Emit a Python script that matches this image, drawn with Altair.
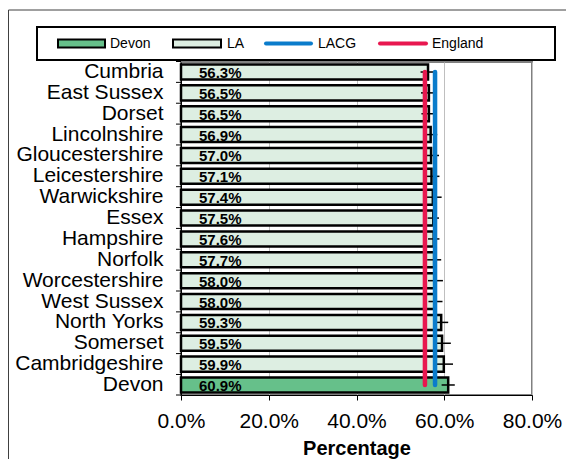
import altair as alt
import pandas as pd

counties = ["Cumbria", "East Sussex", "Dorset", "Lincolnshire", "Gloucestershire",
            "Leicestershire", "Warwickshire", "Essex", "Hampshire", "Norfolk",
            "Worcestershire", "West Sussex", "North Yorks", "Somerset",
            "Cambridgeshire", "Devon"]
values = [56.3, 56.5, 56.5, 56.9, 57.0, 57.1, 57.4, 57.5, 57.6, 57.7,
          58.0, 58.0, 59.3, 59.5, 59.9, 60.9]
err_half = [1.7, 1.8, 1.7, 1.5, 1.8, 1.8, 2.0, 1.3, 1.3, 1.6,
            1.7, 1.6, 1.6, 2.0, 2.1, 1.5]
lacg_value = 57.9
england_value = 55.6
x_ticks = [0, 20, 40, 60, 80]

FONT = "Liberation Sans"
GREEN = "#66C08A"
LIGHT = "#DDEEE2"
BLUE = "#0A7CCB"
RED = "#E8174F"

df = pd.DataFrame({
    "county": counties,
    "value": values,
    "lo": [v - e for v, e in zip(values, err_half)],
    "hi": [v + e for v, e in zip(values, err_half)],
    "kind": ["Devon" if c == "Devon" else "LA" for c in counties],
    "label": [f"{v:.1f}%" for v in values],
    "lacg": [lacg_value] * len(counties),
    "england": [england_value] * len(counties),
})

one = pd.DataFrame({"k": [0]})

yscale = alt.Scale(domain=counties, paddingInner=0.28, paddingOuter=0.12)
xscale = alt.Scale(domain=[0, 80], nice=False)

Y = alt.Y("county:N", sort=counties, scale=yscale,
          axis=alt.Axis(title=None, ticks=False, labelPadding=18, labelFontSize=21,
                        labelFont=FONT, labelColor="black", domainColor="black",
                        domainWidth=1, grid=False, labelLimit=300))

X = alt.X("value:Q", scale=xscale,
          axis=alt.Axis(values=x_ticks, labelExpr="format(datum.value, '.1f') + '%'",
                        title="Percentage", titleFont=FONT, titleFontSize=20,
                        titleFontWeight="bold", titleColor="black", titlePadding=7,
                        labelFont=FONT, labelFontSize=21, labelColor="black",
                        labelPadding=10, labelFlush=False, labelOverlap=False,
                        tickSize=5, tickColor="black",
                        domainColor="black", grid=True, gridColor="#BFBFBF",
                        gridWidth=1))

# outer chart border and legend box
border = alt.Chart(one).mark_rect(fillOpacity=0, stroke="#404040", strokeWidth=1).encode(
    x=alt.value(-172.5), x2=alt.value(620), y=alt.value(-52), y2=alt.value(500))
legend_box = alt.Chart(one).mark_rect(fill="white", stroke="black", strokeWidth=2).encode(
    x=alt.value(-144), x2=alt.value(374), y=alt.value(-35), y2=alt.value(-2))
sw_devon = alt.Chart(one).mark_rect(fill=GREEN, stroke="black", strokeWidth=2).encode(
    x=alt.value(-123), x2=alt.value(-76), y=alt.value(-22.5), y2=alt.value(-14.5))
sw_la = alt.Chart(one).mark_rect(fill=LIGHT, stroke="black", strokeWidth=2).encode(
    x=alt.value(-8), x2=alt.value(40), y=alt.value(-22.5), y2=alt.value(-14.5))
sw_lacg = alt.Chart(one).mark_rule(stroke=BLUE, strokeWidth=4, strokeCap="round").encode(
    x=alt.value(85), x2=alt.value(130), y=alt.value(-18.5))
sw_eng = alt.Chart(one).mark_rule(stroke=RED, strokeWidth=4, strokeCap="round").encode(
    x=alt.value(199), x2=alt.value(245), y=alt.value(-18.5))

def legend_text(txt, xpos):
    return alt.Chart(one).mark_text(align="left", baseline="middle", font=FONT,
                                    fontSize=14, color="black").encode(
        x=alt.value(xpos), y=alt.value(-18), text=alt.datum(txt))

base = alt.Chart(df)

bars = base.mark_bar(stroke="black", strokeWidth=2.5).encode(
    x=X, y=Y,
    color=alt.Color("kind:N", scale=alt.Scale(domain=["Devon", "LA"], range=[GREEN, LIGHT]),
                    legend=None))

errs = base.mark_rule(color="black", strokeWidth=1.5).encode(
    x="lo:Q", x2="hi:Q", y=alt.Y("county:N", sort=counties))

ticks = base.mark_rule(color="black", strokeWidth=1, yOffset=-3).encode(
    y=alt.Y("county:N", sort=counties, bandPosition=0),
    x=alt.value(-5), x2=alt.value(0))
tick_bottom = alt.Chart(one).mark_rule(color="black", strokeWidth=1).encode(
    y=alt.value(333), x=alt.value(-5), x2=alt.value(0))

eng_line = base.mark_line(color=RED, strokeWidth=4.5, strokeCap="round").encode(
    x="england:Q", y=alt.Y("county:N", sort=counties))
lacg_line = base.mark_line(color=BLUE, strokeWidth=4.5, strokeCap="round").encode(
    x="lacg:Q", y=alt.Y("county:N", sort=counties))

labels = base.mark_text(align="left", baseline="middle", dx=18, dy=1, font=FONT,
                        fontSize=15, fontWeight="bold", color="black").encode(
    x=alt.datum(0), y=alt.Y("county:N", sort=counties), text="label:N")

chart = alt.layer(
    border, legend_box, sw_devon, sw_la, sw_lacg, sw_eng,
    legend_text("Devon", -71), legend_text("LA", 46), legend_text("LACG", 137),
    legend_text("England", 251),
    bars, errs, ticks, tick_bottom, eng_line, lacg_line, labels
).properties(
    width=351, height=333,
    autosize=alt.AutoSizeParams(type="none"),
    padding={"left": 173, "top": 54, "right": 34, "bottom": 64},
    background="white",
).configure_view(stroke="#808080", strokeWidth=2)

chart.save("out.html", embed_options={"renderer": "svg", "actions": False})
